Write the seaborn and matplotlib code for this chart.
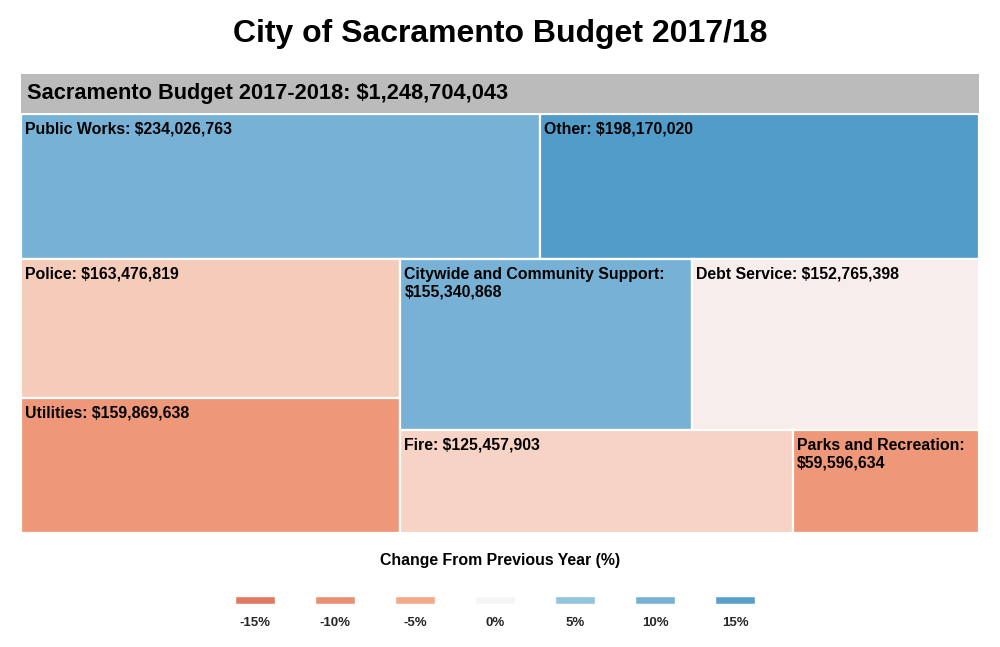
import seaborn as sns
import matplotlib.pyplot as plt
from matplotlib.patches import Rectangle
from matplotlib.colors import LinearSegmentedColormap

departments = ['Public Works', 'Other', 'Police', 'Utilities',
               'Citywide and Community Support', 'Debt Service', 'Fire',
               'Parks and Recreation']
budget = [234026763, 198170020, 163476819, 159869638,
          155340868, 152765398, 125457903, 59596634]
change_pct = [10.0, 16.8, -2.7, -8.2, 10.0, -0.6, -2.2, -8.2]

legend_steps = [-15, -10, -5, 0, 5, 10, 15]
scale_pct = [-20, -15, -10, -5, 0, 5, 10, 15, 20]
scale_colors = ['#d6604d', '#e07b62', '#eb8f72', '#f4a886', '#f7f7f7',
                '#93c4de', '#78b2d6', '#5aa1cb', '#4393c3']

sns.set_theme(style='white')
plt.rcParams['font.family'] = ['Liberation Sans', 'DejaVu Sans']

cmap = LinearSegmentedColormap.from_list(
    'chg', [((p + 20) / 40, c) for p, c in zip(scale_pct, scale_colors)])


def pct_color(v):
    return cmap((v + 20) / 40)


def worst(row, side):
    s = sum(row)
    return max(max(side * side * r / (s * s), s * s / (side * side * r)) for r in row)


def squarify(areas, x, y, w, h):
    # squarified layout in a unit square (row on top when not wider than tall)
    out = []
    i = 0
    while i < len(areas):
        side = min(w, h)
        row = [areas[i]]
        j = i + 1
        while j < len(areas) and worst(row + [areas[j]], side) <= worst(row, side):
            row.append(areas[j])
            j += 1
        s = sum(row)
        if w > h:
            cw = s / h
            yy = y
            for a in row:
                out.append((x, yy, cw, a / cw))
                yy += a / cw
            x += cw
            w -= cw
        else:
            rh = s / w
            xx = x
            for a in row:
                out.append((xx, y, a / rh, rh))
                xx += a / rh
            y += rh
            h -= rh
        i = j
    return out


total = sum(budget)
rects = squarify([b / total for b in budget], 0, 0, 1, 1)

W, H = 1000, 647
fig = plt.figure(figsize=(W / 100, H / 100), dpi=100)
fig.patch.set_facecolor('white')

fig.text(0.5, 1 - 34 / H, 'City of Sacramento Budget 2017/18', ha='center',
         va='center', fontsize=23, fontweight='bold', color='black')

# header bar
hx = fig.add_axes([21 / W, 1 - 113 / H, 958 / W, 39 / H])
hx.set_facecolor('#bbbbbb')
hx.set_xticks([])
hx.set_yticks([])
for s in hx.spines.values():
    s.set_visible(False)
hx.text(6 / 958, 0.5, f'Sacramento Budget 2017-2018: ${total:,}', transform=hx.transAxes,
        ha='left', va='center', fontsize=15.7, fontweight='bold', color='black')

# treemap
ax = fig.add_axes([21 / W, 1 - 533 / H, 958 / W, 419 / H])
ax.set_xlim(0, 1)
ax.set_ylim(1, 0)
ax.axis('off')
fig.canvas.draw()
renderer = fig.canvas.get_renderer()
px_w = ax.get_window_extent().width
for name, val, chg, (x, y, w, h) in zip(departments, budget, change_pct, rects):
    ax.add_patch(Rectangle((x, y), w, h, facecolor=pct_color(chg),
                           edgecolor='white', linewidth=1.6))
    label = f'{name}: ${val:,}'
    t = ax.text(x + 4 / 958, y + 7.5 / 419, label, ha='left', va='top',
                fontsize=11.4, fontweight='bold', color='black')
    if t.get_window_extent(renderer).width > w * px_w - 8:
        t.set_text(f'{name}:\n${val:,}')
        t.set_linespacing(1.25)

# legend
fig.text(0.5, 1 - 561 / H, 'Change From Previous Year (%)', ha='center', va='center',
         fontsize=11.4, fontweight='bold', color='black')
lx = fig.add_axes([215 / W, 1 - 604 / H, 560 / W, 8 / H])
pos = list(range(len(legend_steps)))
lx.bar(pos, [1] * len(pos), width=0.5, color=[pct_color(p) for p in legend_steps])
lx.set_xlim(-0.5, len(pos) - 0.5)
lx.set_ylim(0, 1)
lx.set_yticks([])
lx.set_xticks(pos)
lx.set_xticklabels([f'{p}%' for p in legend_steps], fontsize=9.5, fontweight='bold')
lx.tick_params(axis='x', length=0, pad=9.5)
lx.set_facecolor('none')
for s in lx.spines.values():
    s.set_visible(False)

fig.savefig('out.png', dpi=100, facecolor='white')
